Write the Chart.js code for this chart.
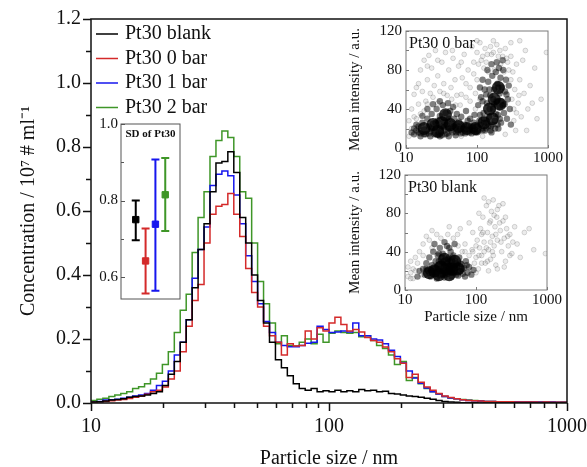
<!DOCTYPE html>
<html>
<head>
<meta charset="utf-8">
<script src="https://cdn.jsdelivr.net/npm/chart.js@4.4.0/dist/chart.umd.min.js"></script>
<style>
  html, body { margin: 0; padding: 0; background: #fff; }
  #wrap { position: relative; width: 587px; height: 467px; }
  canvas { position: absolute; }
</style>
</head>
<body>
<div id="wrap">
  <canvas id="mainChart" width="587" height="467" style="left:0;top:0"></canvas>
  <canvas id="sdChart" width="95" height="190" style="left:90px;top:110px"></canvas>
  <canvas id="scatTop" width="226" height="145" style="left:340px;top:20px"></canvas>
  <canvas id="scatBot" width="226" height="165" style="left:340px;top:165px"></canvas>
</div>
<script>
// -- bin edges of the size histogram (nm) --
const binEdges = [10, 10.59, 11.22, 11.89, 12.59, 13.34, 14.13, 14.96, 15.85, 16.79,
  17.78, 18.84, 19.95, 21.13, 22.39, 23.71, 25.12, 26.61, 28.18, 29.85,
  31.62, 33.5, 35.48, 37.58, 39.81, 42.17, 44.67, 47.32, 50.12, 53.09,
  56.23, 59.57, 63.1, 66.83, 70.79, 74.99, 79.43, 84.14, 89.13, 94.41,
  100, 105.9, 112.2, 118.9, 125.9, 133.4, 141.3, 149.6, 158.5, 167.9,
  177.8, 188.4, 199.5, 211.3, 223.9, 237.1, 251.2, 266.1, 281.8, 298.5,
  316.2, 335, 354.8, 375.8, 398.1, 421.7, 446.7, 473.2, 501.2, 530.9,
  562.3, 595.7, 631, 668.3, 707.9, 749.9, 794.3, 841.4, 891.3, 944.1, 1000];

// -- concentration per bin (10^7 # / ml) --
const blank = [0.003, 0.004, 0.006, 0.009, 0.011, 0.013, 0.018, 0.020, 0.022, 0.025,
  0.030, 0.035, 0.055, 0.090, 0.130, 0.190, 0.260, 0.360, 0.480, 0.560,
  0.660, 0.750, 0.755, 0.785, 0.720, 0.580, 0.500, 0.400, 0.320, 0.250,
  0.190, 0.135, 0.110, 0.085, 0.060, 0.045, 0.040, 0.045, 0.035, 0.038,
  0.035, 0.040, 0.035, 0.038, 0.035, 0.042, 0.038, 0.040, 0.035, 0.037,
  0.030, 0.028, 0.025, 0.022, 0.020, 0.018, 0.015, 0.012, 0.008, 0.005,
  0.003, 0.002, 0.001, 0.001, 0.001, 0, 0, 0, 0, 0,
  0, 0, 0, 0, 0, 0, 0, 0, 0, 0];
const bar0 = [0.002, 0.004, 0.005, 0.007, 0.009, 0.011, 0.014, 0.018, 0.022, 0.027,
  0.035, 0.040, 0.050, 0.075, 0.100, 0.160, 0.240, 0.320, 0.370, 0.500,
  0.590, 0.615, 0.620, 0.655, 0.590, 0.520, 0.420, 0.345, 0.300, 0.240,
  0.210, 0.190, 0.150, 0.185, 0.178, 0.180, 0.225, 0.200, 0.235, 0.225,
  0.250, 0.268, 0.245, 0.225, 0.230, 0.222, 0.205, 0.195, 0.190, 0.175,
  0.160, 0.138, 0.124, 0.080, 0.090, 0.065, 0.050, 0.040, 0.030, 0.022,
  0.017, 0.013, 0.010, 0.008, 0.007, 0.006, 0.005, 0.005, 0.004, 0.004,
  0.004, 0.003, 0.003, 0.003, 0.003, 0.002, 0.003, 0.002, 0.002, 0.002];
const bar1 = [0.003, 0.005, 0.009, 0.010, 0.012, 0.015, 0.018, 0.022, 0.025, 0.030,
  0.040, 0.055, 0.068, 0.100, 0.150, 0.190, 0.260, 0.390, 0.480, 0.550,
  0.680, 0.715, 0.725, 0.710, 0.650, 0.560, 0.460, 0.380, 0.310, 0.255,
  0.220, 0.190, 0.180, 0.176, 0.176, 0.180, 0.187, 0.190, 0.240, 0.230,
  0.220, 0.222, 0.225, 0.222, 0.250, 0.210, 0.210, 0.200, 0.197, 0.185,
  0.165, 0.145, 0.125, 0.100, 0.078, 0.062, 0.047, 0.035, 0.028, 0.020,
  0.016, 0.013, 0.010, 0.008, 0.007, 0.006, 0.005, 0.005, 0.004, 0.004,
  0.004, 0.004, 0.003, 0.003, 0.003, 0.003, 0.002, 0.003, 0.002, 0.002];
const bar2 = [0.008, 0.012, 0.015, 0.020, 0.025, 0.030, 0.035, 0.045, 0.051, 0.060,
  0.075, 0.093, 0.120, 0.160, 0.220, 0.290, 0.340, 0.470, 0.580, 0.660,
  0.770, 0.820, 0.850, 0.830, 0.770, 0.660, 0.640, 0.500, 0.380, 0.310,
  0.250, 0.185, 0.210, 0.180, 0.178, 0.190, 0.200, 0.185, 0.215, 0.190,
  0.218, 0.225, 0.220, 0.218, 0.220, 0.207, 0.210, 0.195, 0.180, 0.170,
  0.150, 0.120, 0.130, 0.070, 0.080, 0.060, 0.045, 0.035, 0.028, 0.020,
  0.016, 0.013, 0.011, 0.009, 0.008, 0.006, 0.005, 0.005, 0.004, 0.004,
  0.004, 0.004, 0.003, 0.004, 0.003, 0.003, 0.003, 0.003, 0.002, 0.003];

const seriesNames = ['Pt30 blank', 'Pt30 0 bar', 'Pt30 1 bar', 'Pt30 2 bar'];
const seriesColors = ['#000000', '#d42a2a', '#1616ee', '#3f9628'];

// -- SD inset: mean and error range --
const sdPos = [1.5, 2.5, 3.5, 4.5];
const sdMean = [0.750, 0.642, 0.738, 0.815];
const sdLow = [0.696, 0.557, 0.564, 0.720];
const sdHigh = [0.800, 0.727, 0.907, 0.911];

// -- scatter insets: [size nm, mean intensity] --
// darkest spots of each cloud
const bar0Core = [[18,20],[24,24],[32,26],[42,24],[55,22],[72,20],[95,20],[125,26],[150,40],
  [175,50],[200,62],[210,45],[165,30],[36,34],[28,17]];
const bar0Dense = [[14,18],[15,22],[16,15],[17,26],[18,19],[19,14],[20,30],[21,22],[22,17],[23,35],
  [24,25],[25,14],[26,20],[27,40],[28,28],[29,16],[30,33],[31,22],[32,13],[33,44],[34,27],[35,18],
  [36,36],[37,24],[38,15],[39,46],[40,30],[41,20],[42,38],[44,25],[45,16],[46,42],[48,30],[50,21],
  [52,35],[54,17],[56,27],[58,20],[60,32],[63,16],[66,24],[70,19],[74,28],[78,16],[82,22],[86,18],
  [90,26],[95,16],[24,45],[30,48],[20,40],[17,33],[13,14],[16,12],[22,12],[30,12],[40,12],[50,13],
  [92,34],[98,22],[104,44],[108,28],[114,52],[118,20],[124,36],[128,60],[134,26],[138,46],[144,68],
  [148,32],[154,54],[158,22],[164,74],[168,40],[174,60],[178,28],[184,78],[188,48],[194,66],[198,34],
  [204,82],[208,56],[214,72],[218,26],[224,62],[228,44],[234,80],[240,36],[248,58],[256,70],[264,30],
  [272,50],[280,64],[290,40],[300,24],[120,70],[140,80],[110,62],[160,86],[190,88],[230,90],[150,40],
  [175,45],[200,20],[130,18],[160,16],[70,38],[80,30],[100,16],[110,34],
  [12,16],[13,20],[14,24],[15,16],[18,14],[21,15],[23,20],[26,26],[28,14],[31,17],[34,21],[36,14],
  [39,20],[43,18],[47,22],[51,16],[55,22],[59,15],[64,20],[68,15],[73,22],[77,19],[84,15],[88,21],
  [93,19],[100,22],[105,17],[112,24],[120,18],[126,26],[135,20],[145,22],[155,18],[165,24],[180,20],
  [195,24],[210,30],[150,60],[170,50],[185,35],[200,62],[220,48],[245,45],[120,48],[135,55],[125,30],
  [260,55],[210,42]];
const bar0Sparse = [[11,12],[11,28],[12,20],[12,40],[13,32],[13,55],[14,62],[15,45],[16,80],[17,58],
  [18,90],[19,48],[20,70],[21,95],[22,56],[23,82],[25,64],[26,100],[28,74],[30,58],[32,88],[34,66],
  [36,98],[38,54],[40,80],[43,62],[46,92],[49,70],[52,54],[55,84],[58,44],[62,72],[66,96],[70,52],
  [75,80],[80,62],[85,104],[90,76],[95,56],[100,98],[105,86],[110,108],[120,94],[130,102],[140,96],
  [155,104],[170,98],[190,106],[210,100],[230,94],[250,102],[270,88],[300,94],[320,78],[340,60],
  [360,86],[380,46],[400,70],[420,32],[440,90],[460,56],[480,100],[500,18],[520,40],[560,64],[600,46],
  [650,82],[700,30],[800,50],[950,98],[350,18],[400,110],[60,12],[120,12],[250,14],[330,28],
  [14,30],[16,35],[18,38],[20,45],[24,52],[28,46],[34,56],[44,50],[50,44],[60,55],[70,66],[80,48],
  [90,88],[95,40],[100,70],[110,50],[115,90],[125,82],[135,88],[145,78],[160,96],[175,80],[200,94],
  [215,86],[240,78],[260,92],[280,80],[300,70],[310,50],[330,40],[360,36],[390,54],[300,108],[170,110],
  [100,110],[60,88],[45,100],[28,90],[20,84],[15,66]];
const blankCore = [[26,20],[32,24],[38,22],[46,22],[36,32],[56,22],[30,16],[42,16],[50,30],[22,18]];
const blankDense = [[18,22],[19,16],[20,28],[21,20],[22,34],[23,14],[24,26],[25,40],[26,18],[27,30],
  [28,12],[29,36],[30,22],[31,44],[32,16],[33,28],[34,38],[35,20],[36,13],[37,32],[38,24],[39,46],
  [40,17],[41,34],[42,26],[43,20],[44,40],[45,14],[46,30],[47,22],[48,36],[50,18],[52,28],[54,24],
  [56,15],[58,34],[60,20],[62,27],[65,17],[68,23],[72,30],[76,18],[80,24],[86,16],[92,21],[30,30],
  [35,26],[40,22],[45,25],[38,18],[33,20],[28,24],[50,48],[26,48],[36,50],[16,20],[15,14],
  [25,22],[27,18],[29,26],[31,15],[33,34],[35,30],[37,16],[39,28],[41,20],[43,30],[45,18],[47,34],
  [49,24],[51,30],[53,16],[55,26],[57,20],[60,28],[64,22],[70,14],[74,26],[22,18],[24,20],[20,22],
  [30,38],[42,44],[46,20],[34,16],[40,32],[44,24]];
const blankSparse = [[11,14],[11,24],[12,18],[12,30],[13,12],[13,22],[14,34],[15,28],[16,40],[17,16],
  [18,48],[20,56],[22,52],[24,62],[28,58],[32,54],[40,58],[48,54],[56,46],[64,40],[70,48],[80,36],
  [88,42],[95,28],[100,34],[104,52],[108,22],[112,44],[116,64],[120,36],[125,76],[130,50],[135,28],
  [140,88],[145,60],[150,42],[155,70],[160,32],[165,82],[170,56],[175,94],[180,46],[185,66],[190,26],
  [196,76],[200,52],[210,88],[220,62],[230,40],[240,72],[250,54],[260,30],[270,64],[285,46],[300,58],
  [320,38],[350,66],[380,48],[420,34],[480,60],[560,64],[650,42],[950,38],[130,96],[100,18],[150,20],
  [200,22],[250,24],[120,58],[90,60],[80,70],[60,64],
  [110,80],[125,60],[140,44],[150,92],[160,72],[170,40],[180,78],[190,58],[200,84],[215,70],[225,50],
  [240,90],[260,76],[280,56],[300,36],[330,50],[120,28],[130,40],[145,30],[160,50],[175,36],[100,46],
  [110,36],[90,40],[70,40],[55,58],[42,66],[24,44],[18,36],[14,20],[12,12]];

// -- axis ticks --
const sizeTicks = [10, 100, 1000];
const sizeMinor = [20, 30, 40, 50, 60, 70, 80, 90, 200, 300, 400, 500, 600, 700, 800, 900];
const concMajor = [0, 0.2, 0.4, 0.6, 0.8, 1.0, 1.2];
const concMinor = [0.1, 0.3, 0.5, 0.7, 0.9, 1.1];

const serif = "'Liberation Serif', 'Times New Roman', serif";
Chart.defaults.font.family = serif;
Chart.defaults.color = '#111';

// --> histogram points: one point per bin edge, value held until next edge <--
function histPoints(vals)
{
    return binEdges.map((e, i) => ({x: e, y: vals[Math.min(i, vals.length - 1)]}));
}

function xyPoints(arr)
{
    return arr.map(p => ({x: p[0], y: p[1]}));
}

// keep the plot box where the layout padding puts it
function noLabelPad(s)
{
    s.paddingLeft = 0;
    s.paddingRight = 0;
    s.paddingTop = 0;
    s.paddingBottom = 0;
}

// --- frame + tick marks drawn from the scales ---
const axisMarks = {
    id: 'axisMarks',
    afterDraw(chart, args, o) {
        const {ctx, chartArea: a, scales: {x, y}} = chart;
        ctx.save();
        ctx.strokeStyle = o.color;
        ctx.lineWidth = o.width;
        ctx.strokeRect(a.left, a.top, a.right - a.left, a.bottom - a.top);
        const s = o.inward ? -1 : 1;
        ctx.beginPath();
        const xt = (list, len) => (list || []).forEach(v => {
            const p = Math.round(x.getPixelForValue(v)) + 0.5;
            ctx.moveTo(p, a.bottom); ctx.lineTo(p, a.bottom + s * len);
        });
        const yt = (list, len) => (list || []).forEach(v => {
            const p = Math.round(y.getPixelForValue(v)) + 0.5;
            ctx.moveTo(a.left, p); ctx.lineTo(a.left - s * len, p);
        });
        xt(o.xMajor, o.major); xt(o.xMinor, o.minor);
        yt(o.yMajor, o.major); yt(o.yMinor, o.minor);
        ctx.stroke();
        ctx.restore();
    }
};

// --- legend with line samples inside the plot ---
const lineLegend = {
    id: 'lineLegend',
    afterDraw(chart, args, o) {
        const ctx = chart.ctx;
        ctx.save();
        ctx.font = o.font;
        ctx.textBaseline = 'middle';
        chart.data.datasets.forEach((d, i) => {
            const yy = o.y + i * o.gap;
            ctx.strokeStyle = d.borderColor;
            ctx.lineWidth = 1.5;
            ctx.beginPath(); ctx.moveTo(o.x, yy); ctx.lineTo(o.x + 22, yy); ctx.stroke();
            ctx.fillStyle = '#111';
            ctx.fillText(d.label, o.x + 29, yy);
        });
        ctx.restore();
    }
};

// --- small text label inside a plot ---
const plotLabel = {
    id: 'plotLabel',
    afterDraw(chart, args, o) {
        const {ctx, chartArea: a} = chart;
        ctx.save();
        ctx.font = o.font;
        ctx.fillStyle = '#111';
        ctx.textAlign = o.align || 'left';
        ctx.textBaseline = 'middle';
        const xx = o.align === 'center' ? (a.left + a.right) / 2 : a.left + o.dx;
        ctx.fillText(o.text, xx, a.top + o.dy);
        ctx.restore();
    }
};

// --- error bars of the SD inset ---
const errBars = {
    id: 'errBars',
    beforeDatasetsDraw(chart) {
        const {ctx, scales: {x, y}} = chart;
        ctx.save();
        ctx.lineWidth = 2;
        sdPos.forEach((p, i) => {
            const px = x.getPixelForValue(p);
            const lo = y.getPixelForValue(sdLow[i]);
            const hi = y.getPixelForValue(sdHigh[i]);
            ctx.strokeStyle = seriesColors[i];
            ctx.beginPath();
            ctx.moveTo(px, lo); ctx.lineTo(px, hi);
            ctx.moveTo(px - 4, lo); ctx.lineTo(px + 4, lo);
            ctx.moveTo(px - 4, hi); ctx.lineTo(px + 4, hi);
            ctx.stroke();
        });
        ctx.restore();
    }
};

// ===== main histogram =====
const mainChart = new Chart(document.getElementById('mainChart'), {
    type: 'line',
    data: {
        datasets: [blank, bar0, bar1, bar2].map((v, k) => ({
            label: seriesNames[k],
            data: histPoints(v),
            stepped: 'before',
            borderColor: seriesColors[k],
            borderWidth: 1.5,
            pointRadius: 0,
            fill: false
        }))
    },
    options: {
        responsive: false,
        animation: false,
        layout: {autoPadding: false, padding: {left: 0, top: 19, right: 20, bottom: 0}},
        plugins: {
            legend: {display: false},
            tooltip: {enabled: false},
            axisMarks: {color: '#111', width: 1.5, major: 8, minor: 5,
                xMajor: sizeTicks, xMinor: sizeMinor, yMajor: concMajor, yMinor: concMinor},
            lineLegend: {x: 96, y: 34, gap: 24.5, font: '20px ' + serif}
        },
        scales: {
            x: {
                type: 'logarithmic', min: 10, max: 1000,
                grid: {display: false, drawTicks: false},
                border: {display: false},
                afterBuildTicks: s => { s.ticks = sizeTicks.map(v => ({value: v})); },
                afterFit: s => { s.height = 64; noLabelPad(s); },
                ticks: {font: {size: 20}, padding: 12, maxRotation: 0, autoSkip: false, callback: v => String(v)},
                title: {display: true, text: 'Particle size / nm', font: {size: 20, lineHeight: 1}, padding: {top: 0, bottom: -2}}
            },
            y: {
                min: 0, max: 1.2,
                grid: {display: false, drawTicks: false},
                border: {display: false},
                afterBuildTicks: s => { s.ticks = concMajor.map(v => ({value: v})); },
                afterFit: s => { s.width = 91; noLabelPad(s); },
                ticks: {font: {size: 20}, padding: 10, callback: v => v.toFixed(1)},
                title: {display: true, text: 'Concentration / 10\u2077 # ml\u207B\u00B9', font: {size: 20}, padding: {top: 17, bottom: 0}}
            }
        }
    },
    plugins: [axisMarks, lineLegend]
});

// ===== SD inset =====
const sdChart = new Chart(document.getElementById('sdChart'), {
    type: 'scatter',
    data: {
        datasets: [{
            data: sdPos.map((p, i) => ({x: p, y: sdMean[i]})),
            pointStyle: 'rect',
            pointRadius: 4.5,
            backgroundColor: seriesColors,
            borderColor: seriesColors,
            borderWidth: 1
        }]
    },
    options: {
        responsive: false,
        animation: false,
        layout: {autoPadding: false, padding: {left: 0, top: 14, right: 5, bottom: 1}},
        plugins: {
            legend: {display: false},
            tooltip: {enabled: false},
            axisMarks: {color: '#555', width: 1, major: 4, minor: 3, inward: true,
                yMajor: [0.6, 0.8, 1.0], yMinor: [0.7, 0.9]},
            plotLabel: {text: 'SD of Pt30', font: 'bold 11px ' + serif, align: 'center', dx: 0, dy: 10}
        },
        scales: {
            x: {type: 'linear', min: 0, max: 6, display: false},
            y: {
                min: 0.5425, max: 1.0,
                grid: {display: false, drawTicks: false},
                border: {display: false},
                afterBuildTicks: s => { s.ticks = [0.6, 0.8, 1.0].map(v => ({value: v})); },
                afterFit: s => { s.width = 31; noLabelPad(s); },
                ticks: {font: {size: 15}, padding: 3, callback: v => v.toFixed(1)}
            }
        }
    },
    plugins: [errBars, axisMarks, plotLabel]
});

// ===== scatter insets =====
function scatterInset(id, core, dense, sparse, label, pad, yWidth, xHeight, xTitle)
{
    return new Chart(document.getElementById(id), {
        type: 'scatter',
        data: {
            datasets: [
                {data: xyPoints(sparse), pointRadius: 2.4, backgroundColor: 'rgba(0,0,0,0.08)',
                 borderColor: 'rgba(0,0,0,0.25)', borderWidth: 0.6},
                {data: xyPoints(dense), pointRadius: 3.2, backgroundColor: 'rgba(0,0,0,0.5)',
                 borderColor: 'rgba(0,0,0,0)', borderWidth: 0},
                {data: xyPoints(core), pointRadius: 6.5, backgroundColor: 'rgba(0,0,0,0.8)',
                 borderColor: 'rgba(0,0,0,0)', borderWidth: 0}
            ]
        },
        options: {
            responsive: false,
            animation: false,
            layout: {autoPadding: false, padding: pad},
            plugins: {
                legend: {display: false},
                tooltip: {enabled: false},
                axisMarks: {color: '#7a7a7a', width: 1, major: 3, minor: 2, inward: true,
                    xMajor: sizeTicks, yMajor: [0, 20, 40, 60, 80, 100, 120]},
                plotLabel: {text: label, font: '16px ' + serif, dx: 3, dy: 13}
            },
            scales: {
                x: {
                    type: 'logarithmic', min: 10, max: 1000,
                    grid: {display: false, drawTicks: false},
                    border: {display: false},
                    afterBuildTicks: s => { s.ticks = sizeTicks.map(v => ({value: v})); },
                    afterFit: s => { s.height = xHeight; noLabelPad(s); },
                    ticks: {font: {size: 15}, padding: 1, maxRotation: 0, autoSkip: false, callback: v => String(v)},
                    title: {display: xTitle, text: 'Particle size / nm', font: {size: 15}, padding: {top: 0, bottom: 4}}
                },
                y: {
                    min: 0, max: 120,
                    grid: {display: false, drawTicks: false},
                    border: {display: false},
                    afterFit: s => { s.width = yWidth; noLabelPad(s); },
                    ticks: {font: {size: 15}, padding: 4, stepSize: 20},
                    title: {display: true, text: 'Mean intensity / a.u.', font: {size: 15}, padding: {top: 6, bottom: 0}}
                }
            }
        },
        plugins: [axisMarks, plotLabel]
    });
}

const scatTop = scatterInset('scatTop', bar0Core, bar0Dense, bar0Sparse, 'Pt30 0 bar',
    {left: 0, top: 11, right: 18, bottom: 0}, 66, 17, false);
const scatBot = scatterInset('scatBot', blankCore, blankDense, blankSparse, 'Pt30 blank',
    {left: 0, top: 10, right: 19, bottom: 0}, 65, 40, true);
</script>
</body>
</html>
